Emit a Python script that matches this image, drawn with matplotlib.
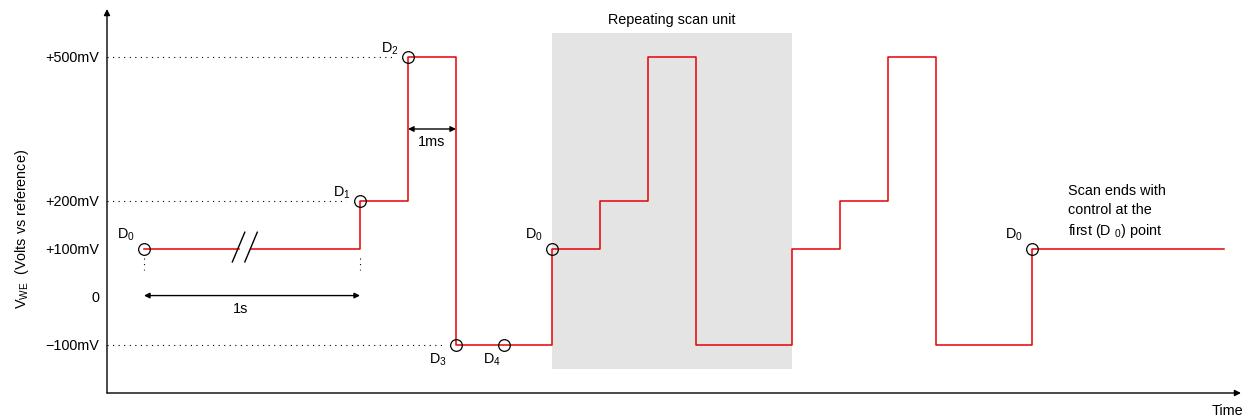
import matplotlib
matplotlib.use("Agg")
import matplotlib.pyplot as plt
import numpy as np

plt.rcParams['font.family'] = ['Liberation Sans', 'DejaVu Sans']
plt.rcParams['mathtext.fontset'] = 'custom'
plt.rcParams['mathtext.rm'] = 'Liberation Sans'
plt.rcParams['mathtext.it'] = 'Liberation Sans:italic'
plt.rcParams['mathtext.default'] = 'regular'

# ---- data ----
step_edges = [0, 4.5, 5.5, 6.5, 8.5, 9.5, 10.5, 11.5, 13.5, 14.5, 15.5, 16.5, 18.5, 22.5]
step_levels = [100, 200, 500, -100, 100, 200, 500, -100, 100, 200, 500, -100, 100]

point_labels = ['D$_0$', 'D$_1$', 'D$_2$', 'D$_3$', 'D$_4$', 'D$_0$', 'D$_0$']
point_t = [0, 4.5, 5.5, 6.5, 7.5, 8.5, 18.5]
point_v = [100, 200, 500, -100, -100, 100, 100]

ytick_values = [500, 200, 100, 0, -100]
ytick_labels = ['+500mV', '+200mV', '+100mV', '0', '\u2212100mV']

scan_unit = (8.5, 13.5)
break_t = 2.1

FS = 10.4
RED = '#e80000'

fig = plt.figure(figsize=(12.43, 4.17), dpi=100)
ax = fig.add_axes([107/1243, 24/417, (1241-107)/1243, (393-9)/417])
ax.set_xlim(-0.771, 22.854)
ax.set_ylim(-200, 600)
for s in ax.spines.values():
    s.set_visible(False)
ax.set_xticks([])
ax.set_yticks(ytick_values)
ax.set_yticklabels(ytick_labels, fontsize=FS)
ax.tick_params(axis='y', length=0, pad=5.8)

# axes arrows
ap = dict(arrowstyle='-|>', color='black', lw=1.0, mutation_scale=9, shrinkA=0, shrinkB=0)
ax.annotate('', xy=(0, 1), xytext=(0, 0), xycoords='axes fraction', textcoords='axes fraction', arrowprops=ap)
ax.annotate('', xy=(1, 0), xytext=(0, 0), xycoords='axes fraction', textcoords='axes fraction', arrowprops=ap)

# shaded repeating unit
ax.axvspan(scan_unit[0], scan_unit[1], ymin=(-150 + 200) / 800, ymax=(550 + 200) / 800,
           color='#e4e4e4', lw=0, zorder=0)
ax.text((scan_unit[0] + scan_unit[1]) / 2, 577, 'Repeating scan unit', ha='center', va='center', fontsize=FS)

# step waveform with a break
xs, ys = [], []
for i, v in enumerate(step_levels):
    xs += [step_edges[i], step_edges[i + 1]]
    ys += [v, v]
gap = 0.13
xs = xs[:1] + [break_t - gap, np.nan, break_t + gap] + xs[1:]
ys = ys[:1] + [step_levels[0], np.nan, step_levels[0]] + ys[1:]
ax.plot(xs, ys, color=RED, lw=1.1, zorder=3)

# break marks
for c in (break_t - gap, break_t + gap):
    ax.plot([c - 0.13, c + 0.13], [73, 135], color='black', lw=1.0, zorder=4)

# dotted guide lines
dot = dict(color='black', lw=0.8, linestyle=(0, (1, 4)), zorder=2)
ax.plot([-0.771, point_t[2] - 0.3], [500, 500], **dot)
ax.plot([-0.771, point_t[1] - 0.3], [200, 200], **dot)
ax.plot([-0.771, point_t[3] - 0.3], [-100, -100], **dot)
for t in (point_t[0], point_t[1]):
    ax.plot([t, t], [81, 56], **dot)

# markers
ax.plot(point_t, point_v, 'o', ms=8.4, mfc='none', mec='black', mew=0.9, zorder=5)

px = 0.72  # points per pixel
offsets = [(-9, 6, 'right', 'bottom'), (-9, 0, 'right', 'bottom'), (-9, 0, 'right', 'bottom'),
           (-9, -7, 'right', 'top'), (-3, -7, 'right', 'top'), (-9, 6, 'right', 'bottom'),
           (-9, 6, 'right', 'bottom')]
for lab, t, v, (dx, dy, ha, va) in zip(point_labels, point_t, point_v, offsets):
    ax.annotate(lab, xy=(t, v), xytext=(dx * px, dy * px), textcoords='offset points',
                ha=ha, va=va, fontsize=FS)

# 1s arrow
dap = dict(arrowstyle='<|-|>', color='black', lw=1.0, mutation_scale=8, shrinkA=0, shrinkB=0)
ax.annotate('', xy=(point_t[1], 3), xytext=(point_t[0], 3), arrowprops=dap)
ax.text(2.02, -26, '1s', ha='center', va='center', fontsize=FS)

# 1ms arrow
ax.annotate('', xy=(point_t[3], 350), xytext=(point_t[2], 350), arrowprops=dap)
ax.text(6.0, 322, '1ms', ha='center', va='center', fontsize=FS)

# end text
ax.text(19.25, 235, 'Scan ends with\ncontrol at the\nfirst (D $_0$) point', ha='left', va='top',
        fontsize=FS, linespacing=1.42)

ax.text(22.25, -237, 'Time', ha='left', va='center', fontsize=FS, clip_on=False)

ax.set_ylabel('V$_{WE}$  (Volts vs reference)', fontsize=FS)
ax.yaxis.set_label_coords(-0.0668, 0.428)

fig.savefig('out.png', dpi=100)
